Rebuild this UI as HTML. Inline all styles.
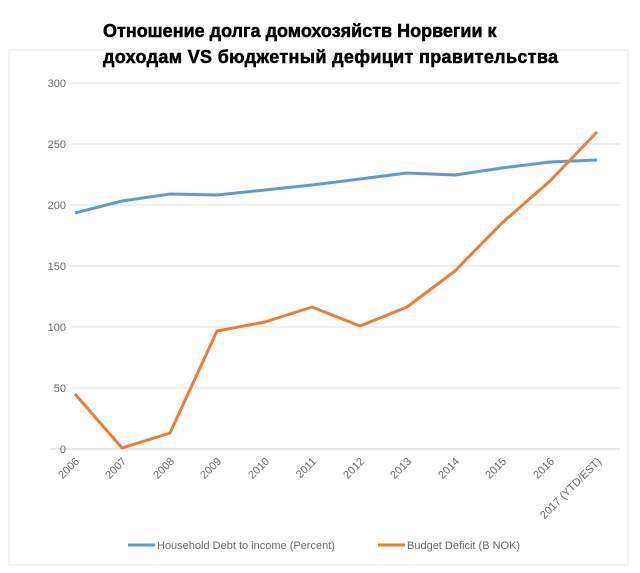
<!DOCTYPE html><html><head><style>body{margin:0;background:#fff}svg{display:block}</style></head><body>
<svg width="640" height="573" xmlns="http://www.w3.org/2000/svg" font-family="Liberation Sans, sans-serif">
<rect x="9" y="50" width="619" height="515" fill="#fff" stroke="#e8e8e8"/>
<g stroke="#e0e0e0" stroke-width="1">
<line x1="70" x2="620" y1="83" y2="83"/><line x1="70" x2="620" y1="144" y2="144"/><line x1="70" x2="620" y1="205" y2="205"/><line x1="70" x2="620" y1="266" y2="266"/><line x1="70" x2="620" y1="327" y2="327"/><line x1="70" x2="620" y1="388" y2="388"/></g>
<line x1="50" x2="620" y1="449" y2="449" stroke="#d0d0d0"/>
<g font-size="11" fill="#666" text-anchor="end">
<text x="66" y="87">300</text><text x="66" y="148">250</text><text x="66" y="209">200</text><text x="66" y="270">150</text><text x="66" y="331">100</text><text x="66" y="392">50</text><text x="66" y="453">0</text></g>
<g font-size="11" fill="#666" text-anchor="end">
<text transform="translate(80,462) rotate(-45)">2006</text>
<text transform="translate(127,462) rotate(-45)">2007</text>
<text transform="translate(175,462) rotate(-45)">2008</text>
<text transform="translate(222,462) rotate(-45)">2009</text>
<text transform="translate(270,462) rotate(-45)">2010</text>
<text transform="translate(317,462) rotate(-45)">2011</text>
<text transform="translate(365,462) rotate(-45)">2012</text>
<text transform="translate(412,462) rotate(-45)">2013</text>
<text transform="translate(460,462) rotate(-45)">2014</text>
<text transform="translate(507,462) rotate(-45)">2015</text>
<text transform="translate(555,462) rotate(-45)">2016</text>
<text transform="translate(602,462) rotate(-45)">2017 (YTD/EST)</text></g>
<polyline fill="none" stroke="#5b9bd5" stroke-width="3" stroke-linejoin="round" points="75,213 122,201 170,194 217,195 265,190 312,185 360,179 407,173 455,175 502,168 550,162 597,160"/>
<polyline fill="none" stroke="#ed7d31" stroke-width="3" stroke-linejoin="round" points="75,394 122,448 170,433 217,331 265,322 312,307 360,326 407,307 455,271 502,223 550,181 597,132"/>
<line x1="128" x2="155" y1="545" y2="545" stroke="#5b9bd5" stroke-width="3"/>
<text x="157" y="549" font-size="11" fill="#666">Household Debt to income (Percent)</text>
<line x1="378" x2="405" y1="545" y2="545" stroke="#ed7d31" stroke-width="3"/>
<text x="407" y="549" font-size="11" fill="#666">Budget Deficit (B NOK)</text>
<g font-size="18" font-weight="bold" fill="#000" stroke="#000" stroke-width="0.5">
<text x="103" y="37">Отношение долга домохозяйств Норвегии к</text>
<text x="103" y="63" textLength="455">доходам VS бюджетный дефицит правительства</text></g>
</svg>
</body></html>
